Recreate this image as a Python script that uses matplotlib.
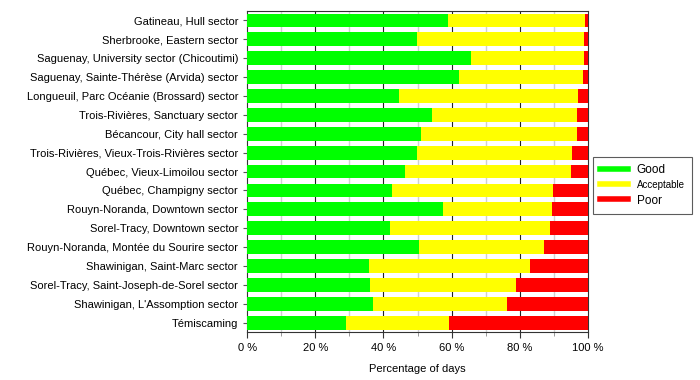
import numpy as np
import matplotlib
matplotlib.use("Agg")
import matplotlib.pyplot as plt
from matplotlib.lines import Line2D

plt.rcParams['font.family'] = ['Liberation Sans', 'DejaVu Sans']

stations = [
    "Gatineau, Hull sector",
    "Sherbrooke, Eastern sector",
    "Saguenay, University sector (Chicoutimi)",
    "Saguenay, Sainte-Thérèse (Arvida) sector",
    "Longueuil, Parc Océanie (Brossard) sector",
    "Trois-Rivières, Sanctuary sector",
    "Bécancour, City hall sector",
    "Trois-Rivières, Vieux-Trois-Rivières sector",
    "Québec, Vieux-Limoilou sector",
    "Québec, Champigny sector",
    "Rouyn-Noranda, Downtown sector",
    "Sorel-Tracy, Downtown sector",
    "Rouyn-Noranda, Montée du Sourire sector",
    "Shawinigan, Saint-Marc sector",
    "Sorel-Tracy, Saint-Joseph-de-Sorel sector",
    "Shawinigan, L'Assomption sector",
    "Témiscaming",
]
good = [58.8, 49.7, 65.7, 62.2, 44.7, 54.1, 51.0, 49.7, 46.3,
        42.6, 57.5, 41.9, 50.5, 35.8, 36.0, 36.9, 28.9]
acceptable = [40.2, 49.1, 33.1, 36.3, 52.4, 42.7, 45.8, 45.6, 48.7,
              47.1, 31.9, 47.0, 36.7, 47.3, 42.8, 39.2, 30.4]
poor = [100 - g - a for g, a in zip(good, acceptable)]

c_good = "#00ff00"
c_acc = "#ffff00"
c_poor = "#ff0000"

fig = plt.figure(figsize=(7, 3.8), dpi=100)
ax = fig.add_axes([0.353, 0.126, 0.487, 0.845])

y = np.arange(len(stations))
g = np.array(good)
a = np.array(acceptable)
p = np.array(poor)
h = 0.73
ax.barh(y, g, height=h, color=c_good, zorder=3)
ax.barh(y, a, left=g, height=h, color=c_acc, zorder=3)
ax.barh(y, p, left=g + a, height=h, color=c_poor, zorder=3)

# grid lines
for xv in [10, 30, 50, 70, 90]:
    ax.axvline(xv, color="#d0d0d0", lw=1, zorder=1)
for xv in [20, 40, 60, 80]:
    ax.axvline(xv, color="#222222", lw=0.8, zorder=1)

ax.set_xlim(0, 100)
ax.set_ylim(len(stations) - 0.5, -0.5)
ax.set_yticks(y)
ax.set_yticklabels(stations, fontsize=8)
ax.set_xticks([0, 20, 40, 60, 80, 100])
ax.set_xticklabels(["0 %", "20 %", "40 %", "60 %", "80 %", "100 %"], fontsize=8)
ax.set_xticks([10, 30, 50, 70, 90], minor=True)
ax.tick_params(axis='x', which='major', length=4, color="#333333")
ax.tick_params(axis='x', which='minor', length=3, color="#888888")
ax.tick_params(axis='y', length=3, color="#555555")
ax.set_xlabel("Percentage of days", fontsize=8, labelpad=8)
for s in ax.spines.values():
    s.set_color("#333333")
    s.set_linewidth(0.8)

handles = [Line2D([], [], color=c_good, lw=4),
           Line2D([], [], color=c_acc, lw=4),
           Line2D([], [], color=c_poor, lw=4)]
leg = fig.legend(handles, ["Good", "Acceptable", "Poor"],
                 loc="upper left", bbox_to_anchor=(0.847, 0.587),
                 borderaxespad=0, fontsize=8.5, frameon=True, fancybox=False,
                 handlelength=2.4, handletextpad=0.7, labelspacing=0.35,
                 borderpad=0.6)
leg.get_frame().set_edgecolor("#333333")
leg.get_frame().set_linewidth(0.8)
leg.get_texts()[1].set_fontsize(7)

fig.savefig("out.png", dpi=100)
